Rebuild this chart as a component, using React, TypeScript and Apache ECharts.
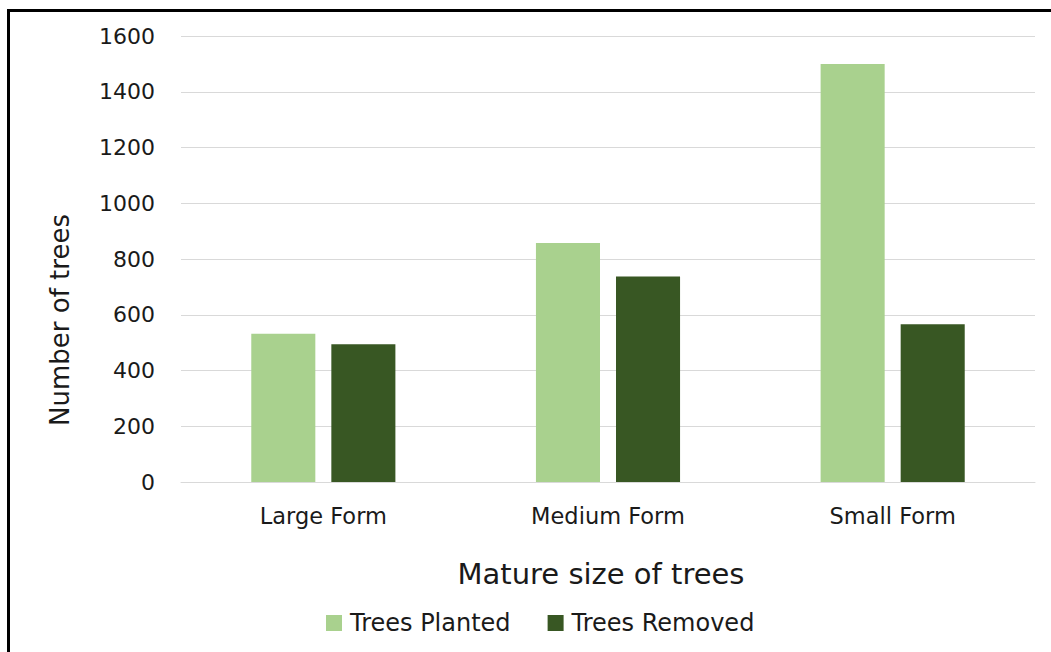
import React, { useEffect, useRef } from "react";
import * as echarts from "echarts";

const categories = ["Large Form", "Medium Form", "Small Form"];
const treesPlanted = [532, 857, 1500];
const treesRemoved = [494, 737, 566];
const seriesNames = ["Trees Planted", "Trees Removed"];
const yTitle = "Number of trees";
const xTitle = "Mature size of trees";

const FONT = "'DejaVu Sans', 'Open Sans', sans-serif";
const TXT = "#1a1a1a";

export default function App() {
  const ref = useRef<HTMLDivElement>(null);
  useEffect(() => {
    document.body.style.margin = "0";
    const chart = echarts.init(ref.current!, undefined, { renderer: "svg" });
    chart.setOption({
      animation: false,
      backgroundColor: "#ffffff",
      textStyle: { fontFamily: FONT },
      grid: { left: 181, right: 16, top: 36, bottom: 170, containLabel: false },
      legend: {
        data: seriesNames,
        top: 611,
        left: 326,
        padding: 0,
        itemWidth: 16,
        itemHeight: 16,
        itemGap: 37,
        icon: "rect",
        textStyle: { fontSize: 24, color: TXT, fontFamily: FONT, padding: [0, 0, 0, 3] },
      },
      xAxis: {
        type: "category",
        data: categories,
        name: xTitle,
        nameLocation: "middle",
        nameGap: 77,
        nameTextStyle: { fontSize: 29, color: TXT, fontFamily: FONT, padding: [0, 14, 0, 0] },
        axisLine: { show: true, lineStyle: { color: "#d9d9d9", width: 1 } },
        axisTick: { show: false },
        axisLabel: { fontSize: 22.5, color: TXT, margin: 22, fontFamily: FONT },
      },
      yAxis: {
        type: "value",
        min: 0,
        max: 1600,
        interval: 200,
        name: yTitle,
        nameLocation: "middle",
        nameGap: 108,
        nameRotate: 90,
        nameTextStyle: { fontSize: 26, color: TXT, fontFamily: FONT, padding: [0, 122, 0, 0] },
        axisLine: { show: false },
        axisTick: { show: false },
        axisLabel: {
          fontSize: 22,
          color: TXT,
          margin: 26,
          fontFamily: FONT,
          formatter: (v: number) => String(v),
        },
        splitLine: { lineStyle: { color: "#d9d9d9", width: 1 } },
      },
      series: [
        {
          name: seriesNames[0],
          type: "bar",
          data: treesPlanted,
          itemStyle: { color: "#A9D18E" },
          barWidth: "22.5%",
          barGap: "25%",
        },
        {
          name: seriesNames[1],
          type: "bar",
          data: treesRemoved,
          itemStyle: { color: "#385723" },
          barWidth: "22.5%",
          barGap: "25%",
        },
      ],
      graphic: [
        { type: "line", shape: { x1: 7, y1: 10.5, x2: 1051, y2: 10.5 }, style: { stroke: "#000", lineWidth: 3 } },
        { type: "line", shape: { x1: 8.5, y1: 9, x2: 8.5, y2: 652 }, style: { stroke: "#000", lineWidth: 3 } },
      ],
    });
    return () => chart.dispose();
  }, []);
  return <div ref={ref} style={{ width: 1051, height: 652 }} />;
}
